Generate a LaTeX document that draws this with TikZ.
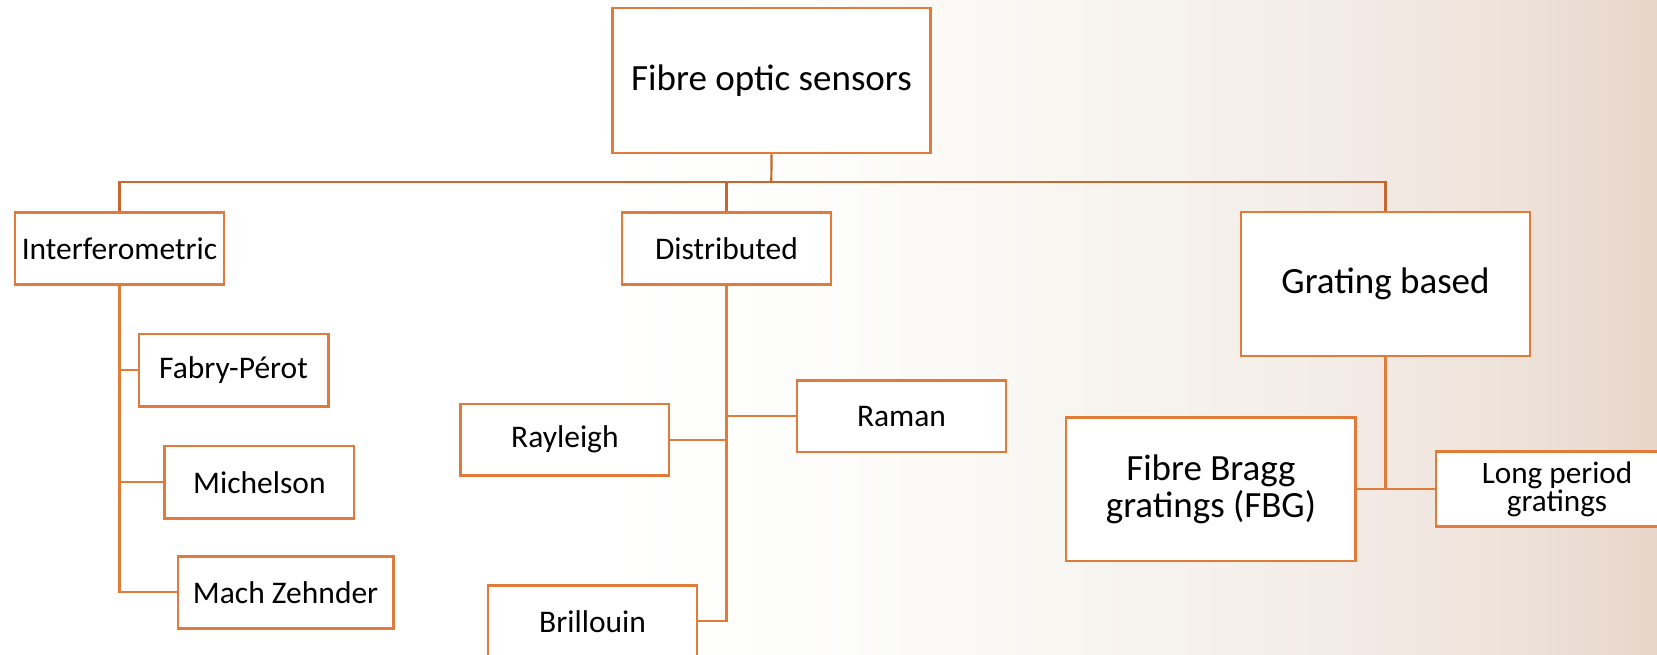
\documentclass[tikz,border=0pt]{standalone}
\usepackage{fontspec}
\setmainfont{Carlito}
\definecolor{boxc}{HTML}{E07B39}
\definecolor{busc}{HTML}{C5672F}
\definecolor{bgA}{HTML}{FDFDFB}
\definecolor{bgB}{HTML}{F8F6F1}
\definecolor{bgC}{HTML}{F3EBE6}
\definecolor{bgD}{HTML}{EEE3DA}
\definecolor{bgE}{HTML}{E8D5C9}
\begin{document}
\begin{tikzpicture}[x=0.5pt,y=-0.5pt,
  box/.style={draw=boxc, line width=1.25pt, fill=white, inner sep=0pt, align=center, text=black},
  big/.style={font=\fontsize{18.5}{18.8}\selectfont},
  med/.style={font=\fontsize{15.75}{18}\selectfont},
  sml/.style={font=\fontsize{15.6}{14.2}\selectfont},
  conn/.style={draw=boxc, line width=1.1pt},
  busline/.style={draw=busc, line width=1.1pt}]
\path[use as bounding box] (0,0) rectangle (1657,654);
\clip (0,0) rectangle (1657,654);
% background gradient
\fill[white] (0,0) rectangle (601,654);
\shade[left color=white, right color=bgA] (600,0) rectangle (801,654);
\shade[left color=bgA, right color=bgB] (800,0) rectangle (1074,654);
\shade[left color=bgB, right color=bgC] (1073,0) rectangle (1347,654);
\shade[left color=bgC, right color=bgD] (1346,0) rectangle (1511,654);
\shade[left color=bgD, right color=bgE] (1510,0) rectangle (1657,654);

% level 0
\node[box, big, minimum width=159pt, minimum height=72.5pt] (root) at (771.5,80.5) {Fibre optic sensors};
% level 1
\node[box, med, minimum width=104.3pt, minimum height=36pt] (interf) at (119.5,248.3) {Interferometric};
\node[box, med, minimum width=104.5pt, minimum height=36pt] (distrib) at (726.5,248.3) {Distributed};
\node[box, big, minimum width=144.5pt, minimum height=72pt] (grating) at (1385.5,284) {Grating based};
% interferometric children
\node[box, med, minimum width=94.75pt, minimum height=36.3pt] (fabry) at (233.5,370.3) {Fabry-Pérot};
\node[box, med, minimum width=94.8pt, minimum height=36.3pt] (michelson) at (259.4,482.3) {Michelson};
\node[box, med, minimum width=107.7pt, minimum height=36pt] (mach) at (285.6,592.3) {Mach Zehnder};
% distributed children
\node[box, med, minimum width=104.3pt, minimum height=35.7pt] (rayleigh) at (564.9,439.7) {Rayleigh};
\node[box, med, minimum width=104.3pt, minimum height=35.7pt] (raman) at (901.5,416.3) {Raman};
\node[box, med, minimum width=104.5pt, minimum height=36pt] (brillouin) at (592.6,621.3) {Brillouin};
% grating children
\node[box, big, minimum width=144.8pt, minimum height=71.8pt] (fbg) at (1210.9,489.2) {Fibre Bragg\\gratings (FBG)};
\node[box, sml, minimum width=121pt, minimum height=37.5pt] (lpg) at (1557,489.2) {Long period\\gratings};

% connectors
\coordinate (bus) at (771.3,182.3);
\draw[busline] (root.south) -- (bus);
\draw[busline] (interf.north) |- (bus);
\draw[busline] (distrib.north) |- (bus);
\draw[busline] (grating.north) |- (bus);

\draw[conn] (interf.south) |- (fabry.west);
\draw[conn] (interf.south) |- (michelson.west);
\draw[conn] (interf.south) |- (mach.west);

\draw[conn] (distrib.south) |- (rayleigh.east);
\draw[conn] (distrib.south) |- (raman.west);
\draw[conn] (distrib.south) |- (brillouin.east);

\draw[conn] (grating.south) |- (fbg.east);
\draw[conn] (grating.south) |- (lpg.west);
\end{tikzpicture}
\end{document}
